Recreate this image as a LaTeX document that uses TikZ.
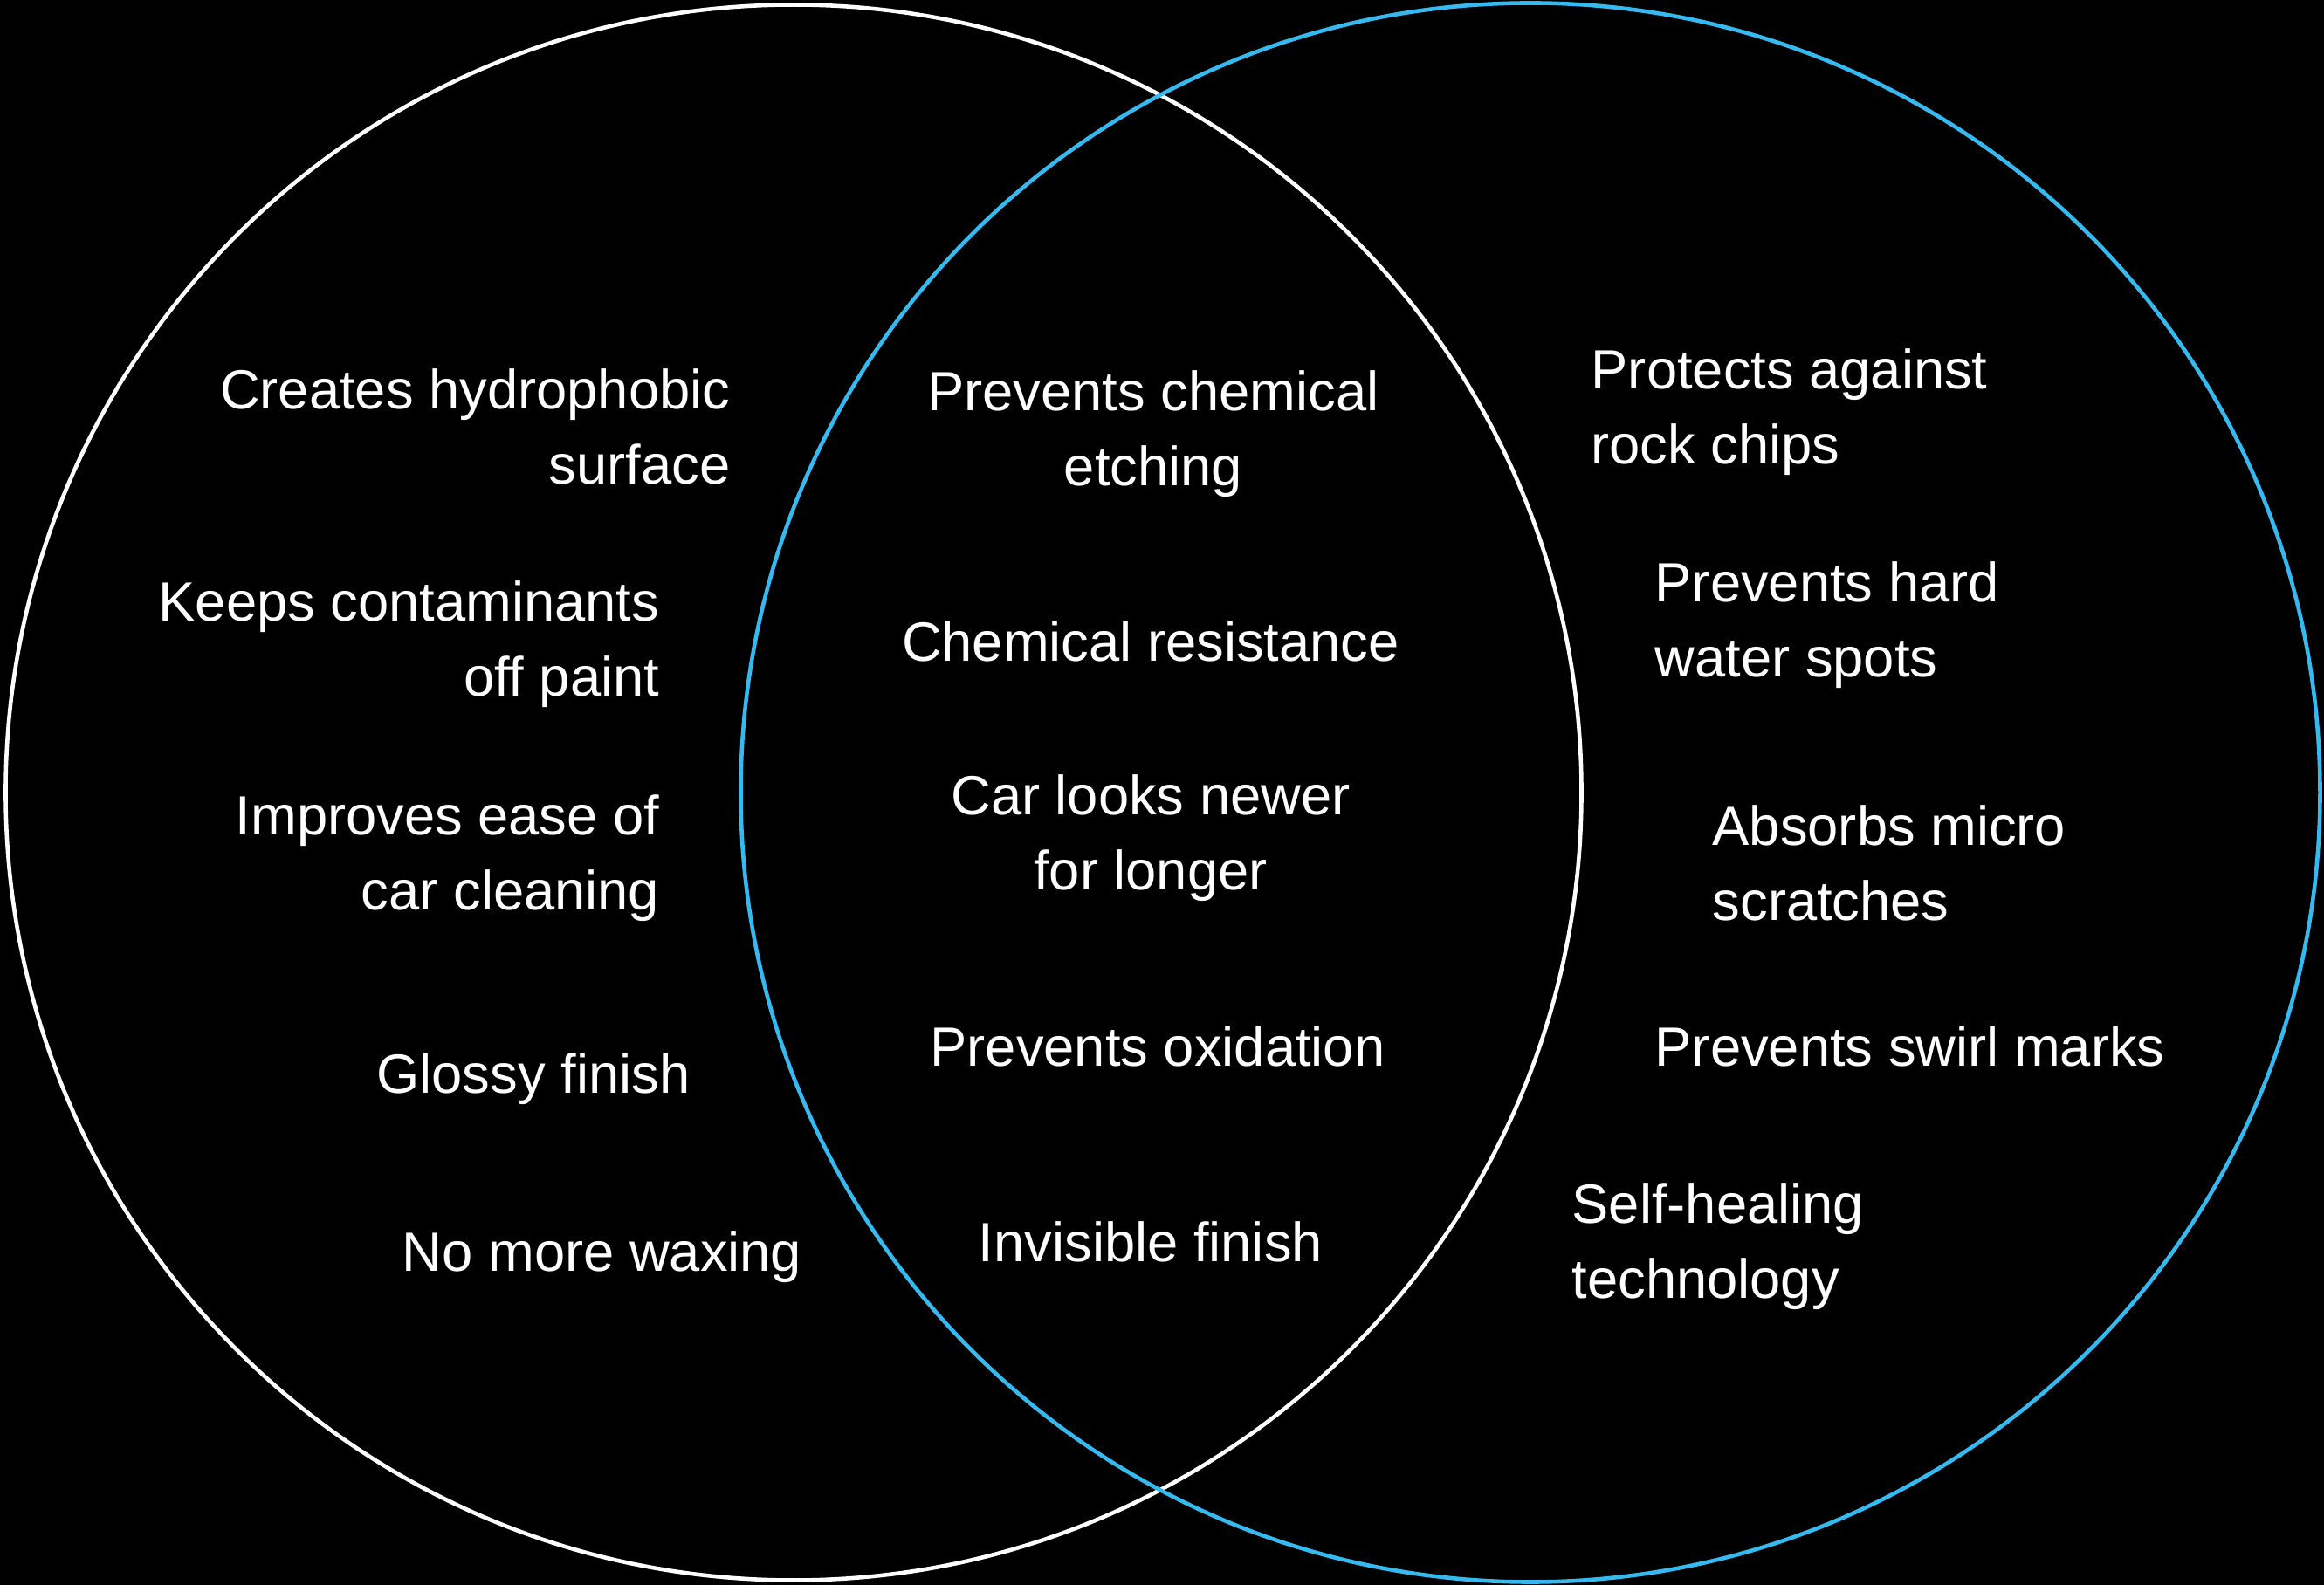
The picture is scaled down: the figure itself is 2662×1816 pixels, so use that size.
\documentclass[tikz,border=0pt]{standalone}
\usepackage{fontspec}
\setmainfont{Liberation Sans}
\definecolor{vennblue}{RGB}{52,186,240}
\begin{document}
\begin{tikzpicture}[x=0.01cm,y=-0.01cm,
  lbl/.style={text=white,inner sep=0pt,font=\fontsize{18}{24.5}\selectfont},
  lefttxt/.style={lbl,anchor=east,align=right},
  midtxt/.style={lbl,anchor=center,align=center},
  righttxt/.style={lbl,anchor=west,align=left},
  ring/.style={line width=1.3pt}]
\fill[black] (0,0) rectangle (2662,1816);
\useasboundingbox (0,0) rectangle (2662,1816);
\draw[ring,white] (909,908) circle [radius=9.02cm];
\draw[ring,vennblue] (1753,908) circle [radius=9.04cm];
% left set
\node[lefttxt] (l1) at (837,489) {Creates hydrophobic\\surface};
\node[lefttxt] (l2) at (756,738) {Keeps contaminants\\off paint};
\node[lefttxt] (l3) at (756,983) {Improves ease of\\car cleaning};
\node[lefttxt] (l4) at (791,1236) {Glossy finish};
\node[lefttxt] (l5) at (919,1440) {No more waxing};
% intersection
\node[midtxt] (m1) at (1321,497) {Prevents chemical\\etching};
\node[midtxt] (m2) at (1318,735) {Chemical resistance};
\node[midtxt] (m3) at (1318,960) {Car looks newer\\for longer};
\node[midtxt] (m4) at (1326,1199) {Prevents oxidation};
\node[midtxt] (m5) at (1318,1423) {Invisible finish};
% right set
\node[righttxt] (r1) at (1822,472) {Protects against\\rock chips};
\node[righttxt] (r2) at (1895,716) {Prevents hard\\water spots};
\node[righttxt] (r3) at (1961,989) {Absorbs micro\\scratches};
\node[righttxt] (r4) at (1895,1199) {Prevents swirl marks};
\node[righttxt] (r5) at (1800,1428) {Self-healing\\technology};
\end{tikzpicture}
\end{document}
